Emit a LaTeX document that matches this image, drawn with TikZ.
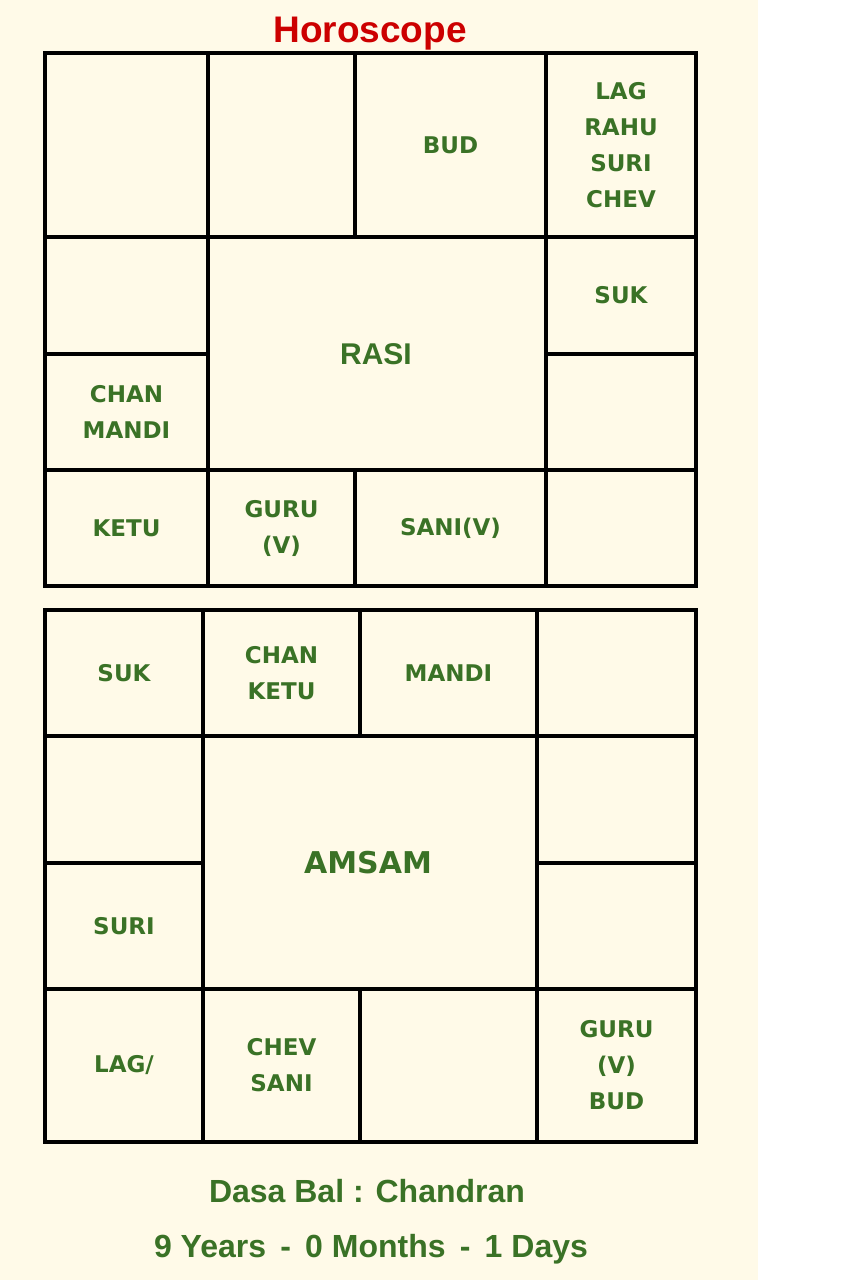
\documentclass[tikz,border=0pt]{standalone}
\usepackage{fontspec}
\setmainfont{DejaVu Sans}
\newfontfamily\arialfont{Liberation Sans}
\usepackage{tikz}
\usetikzlibrary{positioning}
\definecolor{cream}{RGB}{255,250,232}
\definecolor{planet}{RGB}{58,114,38}
\definecolor{titlered}{RGB}{204,0,0}

\begin{document}
\begin{tikzpicture}[
    x=1pt, y=-1pt,
    cellbox/.style={draw, line width=4.5pt, inner sep=0pt, outer sep=0pt, align=center,
        text=planet, font=\fontsize{23}{36}\selectfont\bfseries},
    chartname/.style={anchor=base, text=planet, inner sep=0pt},
    footer/.style={anchor=base, text=planet, inner sep=0pt, font=\arialfont\fontsize{32}{32}\selectfont\bfseries}
]
\useasboundingbox (0,0) rectangle (848,1280);
\fill[cream] (0,0) rectangle (758,1280);

\node[anchor=base, text=titlered, inner sep=0pt, font=\arialfont\fontsize{37}{37}\selectfont\bfseries] (title) at (370,42) {Horoscope};

% rasi chart
\node[cellbox, minimum width=163pt, minimum height=184pt] (t1) at (126.5,145) {};
\node[cellbox, minimum width=147pt, minimum height=184pt] (t2) at (281.5,145) {};
\node[cellbox, minimum width=191pt, minimum height=184pt] (t3) at (450.5,145) {BUD};
\node[cellbox, minimum width=150pt, minimum height=184pt] (t4) at (621,145) {LAG\\RAHU\\SURI\\CHEV};
\node[cellbox, minimum width=150pt, minimum height=117pt] (t5) at (621,295.5) {SUK};
\node[cellbox, minimum width=150pt, minimum height=116pt] (t6) at (621,412) {};
\node[cellbox, minimum width=163pt, minimum height=117pt] (t7) at (126.5,295.5) {};
\node[cellbox, minimum width=163pt, minimum height=116pt] (t8) at (126.5,412) {CHAN\\MANDI};
\node[cellbox, minimum width=163pt, minimum height=116pt] (t9) at (126.5,528) {KETU};
\node[cellbox, minimum width=147pt, minimum height=116pt] (t10) at (281.5,528) {GURU\\(V)};
\node[cellbox, minimum width=191pt, minimum height=116pt] (t11) at (450.5,528) {SANI(V)};
\node[cellbox, minimum width=150pt, minimum height=116pt] (t12) at (621,528) {};
\node[cellbox, minimum width=338pt, minimum height=233pt] (rasi) at (377,353.5) {};
\node[chartname, font=\arialfont\fontsize{30}{30}\selectfont\bfseries] (rasiname) at (376,364) {RASI};

% amsam chart
\node[cellbox, minimum width=158pt, minimum height=126pt] (b1) at (124,673) {SUK};
\node[cellbox, minimum width=157pt, minimum height=126pt] (b2) at (281.5,673) {CHAN\\KETU};
\node[cellbox, minimum width=177pt, minimum height=126pt] (b3) at (448.5,673) {MANDI};
\node[cellbox, minimum width=159pt, minimum height=126pt] (b4) at (616.5,673) {};
\node[cellbox, minimum width=158pt, minimum height=127pt] (b5) at (124,799.5) {};
\node[cellbox, minimum width=158pt, minimum height=126pt] (b6) at (124,926) {SURI};
\node[cellbox, minimum width=159pt, minimum height=127pt] (b7) at (616.5,799.5) {};
\node[cellbox, minimum width=159pt, minimum height=126pt] (b8) at (616.5,926) {};
\node[cellbox, minimum width=158pt, minimum height=153pt] (b9) at (124,1065.5) {LAG/};
\node[cellbox, minimum width=157pt, minimum height=153pt] (b10) at (281.5,1065.5) {CHEV\\SANI};
\node[cellbox, minimum width=177pt, minimum height=153pt] (b11) at (448.5,1065.5) {};
\node[cellbox, minimum width=159pt, minimum height=153pt] (b12) at (616.5,1065.5) {GURU\\(V)\\BUD};
\node[cellbox, minimum width=334pt, minimum height=253pt] (amsam) at (370,862.5) {};
\node[chartname, font=\fontsize{30}{30}\selectfont\bfseries] (amsamname) at (368,873) {AMSAM};

\node[footer] (dasa) at (367,1202) {Dasa Bal : Chandran};
\node[footer] (period) at (371,1257) {9 Years \,-\, 0 Months \,-\, 1 Days};
\end{tikzpicture}
\end{document}
